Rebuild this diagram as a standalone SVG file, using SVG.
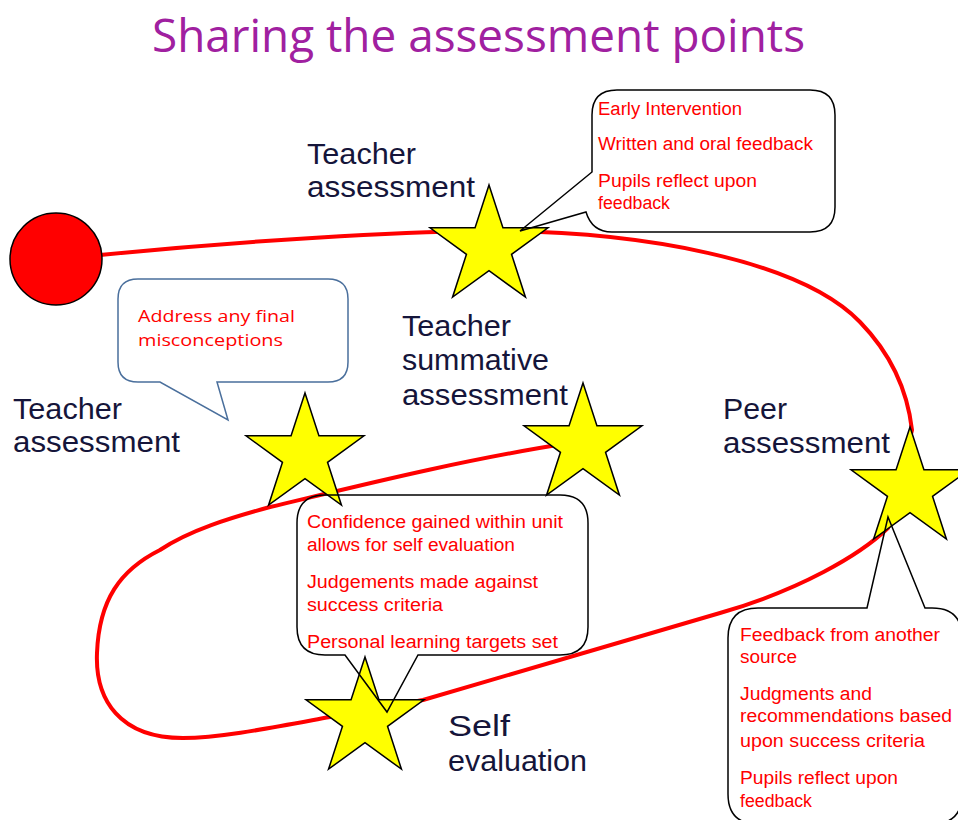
<svg xmlns="http://www.w3.org/2000/svg" width="958" height="820" viewBox="0 0 958 820">
<style>
.title{font-family:"Open Sans","Liberation Sans",sans-serif;font-size:45px;fill:#A020A0}
.lbl{font-family:"Liberation Sans",Arial,sans-serif;font-size:30px;fill:#15153A}
.note{font-family:"Liberation Sans",Arial,sans-serif;font-size:18px;fill:#FF0000}
.note2{font-family:"Open Sans","Liberation Sans",sans-serif;font-size:17px;fill:#FF0000}
.star{fill:#FFFF00;stroke:#000;stroke-width:1.5;stroke-linejoin:miter}
.callout{fill:none;stroke:#000;stroke-width:1.5}
.callout-blue{fill:none;stroke:#4A6F9C;stroke-width:1.5}
.path{fill:none;stroke:#FF0000;stroke-width:4;stroke-linecap:round;stroke-linejoin:round}
</style>
<defs>
<polygon id="star" points="0,-62 13.93,-19.17 58.97,-19.16 22.54,7.32 36.44,50.16 0,23.7 -36.44,50.16 -22.54,7.32 -58.97,-19.16 -13.93,-19.17"/>
</defs>
<rect width="958" height="820" fill="#FFFFFF"/>
<text class="title" x="152" y="52" textLength="653" lengthAdjust="spacingAndGlyphs">Sharing the assessment points</text>

<g id="connectors">
<path class="path" d="M100,255 C250,240 400,232 480,231 C640,230 800,260 860,322 C895,358 908,395 912,430 L888,528 C860,555 800,590 720,613 L423,700 L330,717 C270,728 220,738 183,738 C120,738 95,700 97,653 C99,600 120,570 160,550 C190,530 230,518 270,507 C350,488 460,460 570,443"/>
</g>

<g id="start">
<circle cx="56" cy="259" r="46" fill="#FF0000" stroke="#000" stroke-width="1.5"/>
</g>

<g id="star-teacher-top"><use href="#star" class="star" x="489" y="247"/></g>
<g id="star-teacher-left"><use href="#star" class="star" x="305" y="455"/></g>
<g id="star-summative"><use href="#star" class="star" x="583" y="445"/></g>
<g id="star-peer"><use href="#star" class="star" x="910" y="489"/></g>
<g id="star-self"><use href="#star" class="star" x="365" y="719"/></g>

<g id="label-teacher-top">
<text class="lbl" x="307" y="164" textLength="109" lengthAdjust="spacingAndGlyphs">Teacher</text>
<text class="lbl" x="307" y="197" textLength="168" lengthAdjust="spacingAndGlyphs">assessment</text>
</g>
<g id="label-teacher-left">
<text class="lbl" x="13" y="419" textLength="109" lengthAdjust="spacingAndGlyphs">Teacher</text>
<text class="lbl" x="13" y="452" textLength="167" lengthAdjust="spacingAndGlyphs">assessment</text>
</g>
<g id="label-summative">
<text class="lbl" x="402" y="336" textLength="109" lengthAdjust="spacingAndGlyphs">Teacher</text>
<text class="lbl" x="402" y="370" textLength="147" lengthAdjust="spacingAndGlyphs">summative</text>
<text class="lbl" x="402" y="405" textLength="166" lengthAdjust="spacingAndGlyphs">assessment</text>
</g>
<g id="label-peer">
<text class="lbl" x="723" y="419" textLength="64" lengthAdjust="spacingAndGlyphs">Peer</text>
<text class="lbl" x="723" y="453" textLength="167" lengthAdjust="spacingAndGlyphs">assessment</text>
</g>
<g id="label-self">
<text class="lbl" x="448" y="736" textLength="62" lengthAdjust="spacingAndGlyphs">Self</text>
<text class="lbl" x="448" y="771" textLength="139" lengthAdjust="spacingAndGlyphs">evaluation</text>
</g>

<g id="callout-top">
<path class="callout" d="M617,90 H810 Q835,90 835,115 V207 Q835,232 810,232 H612 Q592,232 586,212 L520,231 L592,172 V115 Q592,90 617,90 Z"/>
<text class="note" x="598" y="115" textLength="144" lengthAdjust="spacingAndGlyphs">Early Intervention</text>
<text class="note" x="598" y="150" textLength="215" lengthAdjust="spacingAndGlyphs">Written and oral feedback</text>
<text class="note" x="598" y="187" textLength="159" lengthAdjust="spacingAndGlyphs">Pupils reflect upon</text>
<text class="note" x="598" y="209" textLength="72" lengthAdjust="spacingAndGlyphs">feedback</text>
</g>

<g id="callout-left">
<path class="callout-blue" d="M138,279 H328 Q348,279 348,299 V362 Q348,382 328,382 H217 L228,420 L160,382 H138 Q118,382 118,362 V299 Q118,279 138,279 Z"/>
<text class="note2" x="138" y="322" textLength="157" lengthAdjust="spacingAndGlyphs">Address any final</text>
<text class="note2" x="138" y="346" textLength="145" lengthAdjust="spacingAndGlyphs">misconceptions</text>
</g>

<g id="callout-middle">
<path class="callout" d="M325,495 H560 Q588,495 588,523 V627 Q588,655 560,655 H418 L387,712 L345,655 H325 Q297,655 297,627 V523 Q297,495 325,495 Z"/>
<text class="note" x="307" y="528" textLength="256" lengthAdjust="spacingAndGlyphs">Confidence gained within unit</text>
<text class="note" x="307" y="551" textLength="208" lengthAdjust="spacingAndGlyphs">allows for self evaluation</text>
<text class="note" x="307" y="588" textLength="231" lengthAdjust="spacingAndGlyphs">Judgements made against</text>
<text class="note" x="307" y="611" textLength="136" lengthAdjust="spacingAndGlyphs">success criteria</text>
<text class="note" x="307" y="648" textLength="251" lengthAdjust="spacingAndGlyphs">Personal learning targets set</text>
</g>

<g id="callout-peer">
<path class="callout" d="M758,608 H867 L888,517 L925,608 H932 Q962,608 962,638 V794 Q962,824 932,824 H758 Q728,824 728,794 V638 Q728,608 758,608 Z"/>
<text class="note" x="740" y="641" textLength="200" lengthAdjust="spacingAndGlyphs">Feedback from another</text>
<text class="note" x="740" y="663" textLength="57" lengthAdjust="spacingAndGlyphs">source</text>
<text class="note" x="740" y="700" textLength="132" lengthAdjust="spacingAndGlyphs">Judgments and</text>
<text class="note" x="740" y="722" textLength="212" lengthAdjust="spacingAndGlyphs">recommendations based</text>
<text class="note" x="740" y="747" textLength="185" lengthAdjust="spacingAndGlyphs">upon success criteria</text>
<text class="note" x="740" y="784" textLength="158" lengthAdjust="spacingAndGlyphs">Pupils reflect upon</text>
<text class="note" x="740" y="807" textLength="72" lengthAdjust="spacingAndGlyphs">feedback</text>
</g>
</svg>
